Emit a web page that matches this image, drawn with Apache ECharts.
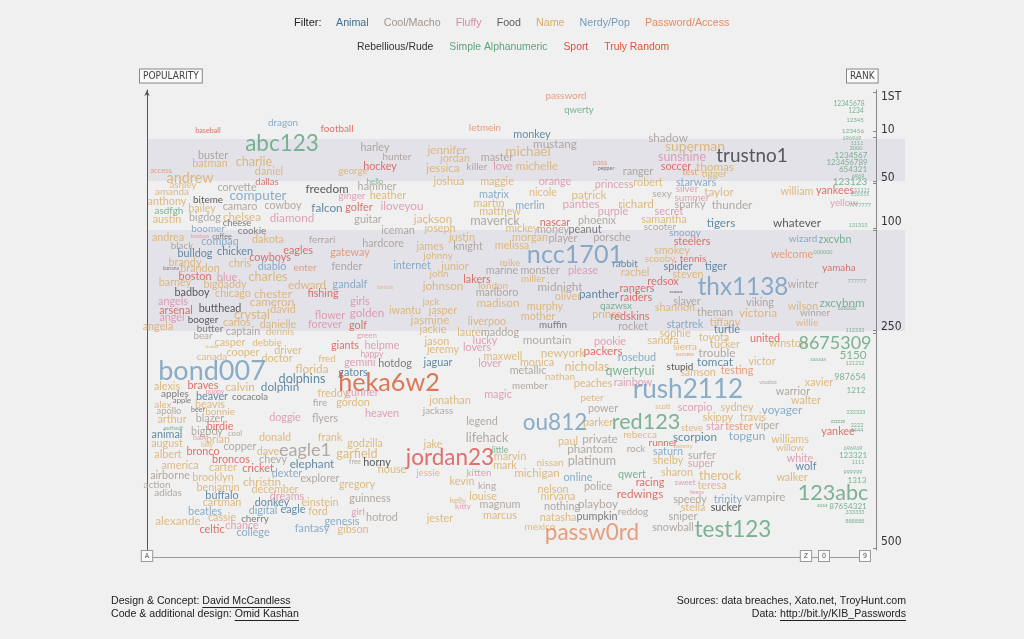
<!DOCTYPE html>
<html><head><meta charset="utf-8">
<script src="https://cdn.jsdelivr.net/npm/echarts@6/dist/echarts.min.js"></script>
<style>html,body{margin:0;padding:0;background:#f0f0f0;}#c{width:1024px;height:639px;}</style>
</head><body><div id="c"></div>
<script>
// each entry: [word, alphabetical position, rank position, popularity]
const animal = [['monkey',385,45,12],['falcon',180,118,13],['tigers',574,133,13],['bulldog',48,164,12],['chicken',88,162,12],['rabbit',478,174,11],['panther',452,204,13],['spider',531,177,12],['tiger',569,177,12],['turtle',580,240,12],['gators',206,283,12],['dolphins',155,289,14],['dolphin',133,297,13],['beaver',65,307,12],['jaguar',291,273,12],['tomcat',568,272,13],['animal',20,345,12],['elephant',165,374,13],['buffalo',75,406,12],['donkey',125,413,12],['eagle',146,420,12],['scorpion',548,347,13],['wolf',659,377,12]];
const coolMacho = [['harley',228,58,12],['buster',66,66,12],['hunter',250,67,11],['mustang',408,54,13],['master',350,68,12],['killer',330,77,11],['shadow',521,48,13],['ranger',491,82,12],['corvette',90,98,12],['hammer',230,97,12],['camaro',93,117,12],['cowboy',136,116,12],['bigdog',58,128,12],['guitar',221,130,12],['iceman',251,141,12],['maverick',348,131,14],['phoenix',450,131,12],['money',406,140,12],['player',416,149,12],['porsche',465,148,12],['sexy',515,104,11],['sparky',543,115,12],['thunder',585,115,13],['scooter',513,137,11],['black',35,156,11],['ferrari',175,150,11],['hardcore',236,154,12],['fender',200,177,12],['knight',321,157,12],['marine',355,181,12],['monster',393,181,12],['marlboro',350,203,12],['midnight',413,197,13],['rocket',486,237,12],['captain',96,242,12],['bear',56,246,11],['maddog',353,243,12],['mountain',400,250,13],['metallic',381,281,12],['member',383,296,11],['winter',656,195,12],['slayer',540,212,12],['viking',613,213,12],['theman',568,223,12],['winner',668,223,11],['trouble',570,263,13],['warrior',646,302,12],['apollo',22,321,10.3],['fire',173,313,11],['blazer',63,329,12],['flyers',178,329,12],['bigboy',60,342,12],['cool',88,344,8.4],['copper',93,357,12],['eagle1',158,360,20],['chevy',126,370,12],['free',208,372,7.6],['airborne',23,386,12],['explorer',173,389,12],['action',10,395,11],['adidas',21,403,11],['guinness',223,409,12],['hotrod',235,428,12],['jackass',291,321,11],['power',456,319,12],['legend',335,332,12],['lifehack',340,348,14],['private',453,349,13],['phantom',443,359,13],['rock',489,359,11],['platinum',445,371,14],['king',340,396,11],['police',451,397,12],['magnum',353,415,12],['nothing',415,417,12],['playboy',451,414,13],['reddog',486,422,11],['viper',620,336,12],['surfer',555,366,12],['speedy',543,410,12],['vampire',618,407,13],['sniper',536,427,12],['snowball',526,438,12],['voodoo',621,292,5.8]];
const fluffy = [['love',356,77,12],['ginger',205,106,11],['iloveyou',255,116,13],['diamond',145,128,13],['booboo',53,146,6],['orange',408,92,12],['princess',467,95,12],['panties',434,114,13],['purple',466,122,12],['sunshine',535,67,13.8],['silver',540,99,11],['summer',545,108,11],['secret',522,122,12],['yellow',697,113,11],['blue',80,188,12],['angels',26,212,12],['girls',213,212,12],['golden',220,223,13],['flower',183,226,12],['angel',25,228,12],['forever',178,235,12],['green',220,245,9],['helpme',235,256,12],['happy',225,264,9.5],['gemini',213,273,12],['puppy',68,302,7.5],['gunner',215,303,12],['please',436,181,12],['pookie',463,252,12],['lucky',338,251,12],['lovers',330,258,12],['lover',343,274,12],['rainbow',486,293,12],['magic',351,305,12],['heaven',235,324,12],['doggie',138,328,12],['baby',53,348,7.3],['dreams',140,407,12],['girl',211,422,11],['chance',95,436,12],['kitten',332,383,11],['kitty',316,416,9],['scorpio',548,318,12],['star',568,337,12],['white',653,369,12],['super',554,374,12],['sweet',538,392,9],['teens',550,402,6.5]];
const food = [['cheese',90,133,10.3],['cookie',105,141,11],['coffee',75,147,8],['pepper',459,78,6],['peanut',438,140,12],['banana',24,178,5.5],['butter',63,239,11],['hotdog',248,274,12],['apples',28,304,11],['cocacola',103,307,10.5],['muffin',406,235,11],['apple',35,311,8.6],['beer',51,320,7.8],['cherry',108,429,11],['pumpkin',450,427,12]];
const nameWords = [['batman',63,74,12],['charlie',107,72,14],['daniel',122,82,12],['george',206,81,11],['andrew',43,88,16],['ashley',36,95,11],['amanda',25,102,11],['heather',241,106,12],['anthony',20,112,12],['bailey',55,119,12],['austin',20,130,12],['chelsea',95,127,13],['andrea',21,148,12],['dakota',121,150,12],['jennifer',300,60,13],['michael',381,62,15],['jordan',308,69,12],['jessica',296,78,13],['michelle',390,76,13],['joshua',302,92,12],['maggie',350,92,12],['robert',501,93,12],['nicole',396,103,12],['patrick',442,105,13],['martin',342,114,12],['richard',489,114,13],['matthew',353,122,12],['jackson',286,129,13],['joseph',293,139,12],['mickey',375,139,12],['justin',315,148,12],['morgan',383,148,12],['superman',548,57,15.4],['thomas',568,77,13],['tigger',567,84,11],['taylor',572,102,13],['samantha',517,130,12],['william',650,102,12],['brandy',38,173,12],['brandon',53,179,12],['chris',93,174,12],['charles',121,187,14],['barney',28,193,12],['bigdaddy',78,195,12],['edward',160,195,13],['hannah',238,197,5.8],['chicago',86,204,12],['chester',126,204,13],['cameron',125,212,13],['crystal',105,225,14],['david',136,220,12],['iwantu',258,221,12],['carlos',90,233,12],['danielle',131,235,12],['angela',11,237,12],['dennis',133,242,11],['casper',83,253,12],['debbie',120,253,11],['bubba',65,257,5],['cooper',96,263,12],['driver',141,261,12],['canada',65,267,11],['fred',180,269,11],['doctor',130,269,12],['florida',165,279,13],['alexis',20,297,12],['calvin',93,297,13],['freddy',186,304,12],['james',283,157,12],['melissa',365,156,12],['johnny',291,166,11],['junior',308,177,12],['mike',363,173,11],['john',292,184,11],['london',346,196,11],['miller',386,189,11],['rachel',488,183,12],['johnson',296,196,13],['madison',351,213,13],['oliver',421,207,12],['jack',284,212,11],['jasper',296,221,12],['murphy',398,217,12],['mother',391,227,12],['prince',460,225,12],['jasmine',283,230,13],['liverpoo',340,232,12],['jackie',286,240,12],['lauren',325,243,12],['jason',290,252,12],['jeremy',296,260,12],['newyork',416,263,13],['maxwell',356,267,12],['monica',390,273,12],['nicholas',440,277,14],['nathan',413,287,11],['peaches',446,294,12],['jonathan',303,311,12],['peter',445,308,11],['smokey',525,161,12],['scooby',513,169,11],['steven',541,185,12],['wilson',656,217,12],['shannon',528,218,12],['victoria',611,223,13],['tiffany',578,233,12],['willie',660,233,11],['sophie',528,244,12],['toyota',567,248,12],['winston',641,254,12],['sandra',516,251,12],['tucker',578,255,12],['sierra',538,257,11],['victor',615,272,12],['samson',551,283,12],['xavier',672,293,12],['walter',659,311,12],['alex',16,315,11],['beavis',63,315,12],['bonnie',73,322,11],['gordon',206,313,12],['arthur',25,330,12],['brian',71,350,12],['donald',128,348,12],['frank',183,348,12],['august',20,354,12],['billy',60,355,7.5],['godzilla',218,354,12],['dave',121,362,12],['albert',21,365,12],['garfield',210,364,14],['america',33,376,12],['carter',76,378,12],['house',245,380,12],['brooklyn',66,388,12],['christin',115,392,13],['gregory',210,395,12],['benjamin',71,398,12],['december',128,400,12],['cartman',75,413,12],['einstein',173,413,12],['ford',171,422,12],['alexande',31,431,13],['cassie',75,428,12],['gibson',206,440,12],['parker',451,333,12],['jake',286,355,12],['paul',421,352,12],['rebecca',493,345,11],['marvin',363,367,12],['mark',358,376,12],['nissan',403,373,11],['jessie',281,383,11],['michigan',390,383,13],['kevin',315,392,12],['nelson',406,400,12],['louise',336,407,12],['kelly',311,410,9.2],['nirvana',411,407,12],['marcus',353,426,12],['jester',293,429,12],['natasha',411,428,12],['mexico',393,437,11],['scott',516,317,8],['sydney',590,318,12],['skippy',571,328,12],['travis',606,328,12],['steve',545,338,10.5],['sammy',536,356,7],['williams',643,350,12],['willow',643,358,11],['shelby',521,371,12],['sharon',530,383,12],['therock',573,386,14],['walker',645,388,12],['teresa',565,396,12],['stella',546,418,12]];
const nerdyPop = [['dragon',136,33,11],['computer',111,106,15],['boomer',61,139,11],['compaq',73,152,12],['matrix',347,105,12],['merlin',383,116,12],['starwars',549,93,12],['snoopy',538,143,11],['wizard',656,149,11],['diablo',125,177,12],['gandalf',203,195,12],['bond007',65,281,30],['ncc1701',428,165,28],['internet',265,176,12],['rosebud',490,268,12],['thx1138',596,197,27],['startrek',538,235,12],['rush2112',541,300,29],['dexter',140,384,12],['digital',116,421,12],['beatles',58,422,12],['genesis',195,432,12],['college',106,443,12],['fantasy',165,439,12],['ou812',408,333,25],['online',431,388,12],['voyager',635,320,13],['topgun',600,346,13],['saturn',521,362,12],['trinity',581,410,12]];
const passwordAccess = [['password',419,6,11],['letmein',338,38,11],['access',14,81,8.5],['pass',453,73,8.5],['test',543,82,10],['gateway',203,163,12],['enter',158,178,11],['welcome',645,165,12],['success',538,264,6],['testing',590,281,12],['tester',592,337,12],['passw0rd',445,443,25]];
const rebelliousRude = [['trustno1',605,66,21],['freedom',180,99,13],['biteme',61,110,11],['whatever',650,133,13],['badboy',45,203,12],['butthead',73,219,12],['booger',56,230,11],['sexsex',529,202,5],['stupid',533,277,11],['horny',230,373,12],['sucker',579,418,12]];
const simpleAlnum = [['abc123',135,54,25],['qwerty',432,20,10.5],['hello',228,92,8.6],['asdfgh',22,121,11],['12345678',702,14,7.4],['1234',709,21,7.4],['12345',708,30,6.8],['123456',706,41,7.2],['696969',705,48,6],['1111',710,53,6],['2000',709,58,6],['1234567',704,65,9],['123456789',700,72,8.8],['654321',706,79,9],['6969',711,86,6],['123123',703,92,11],['11111',715,100,6],['555555',713,104,6],['7777777',713,115,6],['131313',711,135,6],['zxcvbn',688,150,12],['000000',676,162,6],['777777',710,191,6],['qazwsx',469,216,11],['zxcvbnm',695,213,13],['666666',700,218,6],['112233',708,240,6],['8675309',688,253,20],['5150',706,265,13],['aaaaaa',671,269,6],['121212',708,273,6],['qwertyui',483,281,14],['987654',703,287,10],['1212',709,300,9],['asdfasdf',26,338,5.9],['little',353,360,9.5],['red123',499,332,24],['qwert',485,385,12],['232323',709,322,6],['zzzzzz',691,331,6],['2222',710,335,6],['4444',710,340,6],['696969',706,358,6],['123321',706,365,9],['1111',711,372,6],['999999',706,382,6],['1313',710,390,9],['123abc',686,403,24],['aaaa',675,415,6],['87654321',701,416,9],['333333',708,422,6],['888888',708,431,6],['test123',586,440,25]];
const sport = [['baseball',61,41,8],['football',190,39,11],['hockey',233,77,12],['dallas',120,92,10.6],['golfer',212,118,12],['soccer',529,77,12],['nascar',408,133,12],['yankees',688,101,12],['steelers',545,152,12],['cowboys',123,168,12],['eagles',151,161,12],['boston',48,187,12],['fishing',176,204,12],['arsenal',29,221,12],['golf',211,236,12],['giants',198,256,12],['braves',56,296,12],['lakers',330,190,12],['rangers',490,199,12],['raiders',489,208,12],['redskins',483,227,12],['packers',456,261,13],['tennis',546,169,11],['yamaha',692,178,11],['redsox',516,192,12],['united',618,249,12],['birdie',73,337,12],['bronco',56,362,12],['broncos',84,370,12],['cricket',111,379,12],['celtic',65,440,12],['jordan23',303,368,25],['racing',503,393,12],['redwings',493,404,13],['yankee',691,342,12],['runner',516,353,11]];
const trulyRandom = [['heka6w2',242,293,28]];

const categoryNames = ['Animal','Cool/Macho','Fluffy','Food','Name','Nerdy/Pop','Password/Access','Rebellious/Rude','Simple Alphanumeric','Sport','Truly Random'];
const categoryData = [animal, coolMacho, fluffy, food, nameWords, nerdyPop, passwordAccess, rebelliousRude, simpleAlnum, sport, trulyRandom];

const rankLabels = ['1ST','10','50','100','250','500'];
const rankLabelPos = [7, 40, 88, 132, 237, 452];
const rankBracketEnds = [2, 41, 47, 91, 93, 138, 140, 240, 243, 458];
const rankBands = [[49, 91], [140, 241]];
const letterLabels = ['A','Z','0','9'];
const letterPos = [0, 659, 677, 718];

const colors = {
  'Animal':'#3f6f90','Cool/Macho':'#a0968f','Fluffy':'#d98ca3','Food':'#5e5e5e','Name':'#d8ac64',
  'Nerdy/Pop':'#6f9bbd','Password/Access':'#e48a60','Rebellious/Rude':'#333333',
  'Simple Alphanumeric':'#5ea27c','Sport':'#d8504a','Truly Random':'#d6592f'
};
const wordFont = 'Lato, "Open Sans", sans-serif';
const uiFont = '"Liberation Sans", Arial, sans-serif';
const condFont = '"Liberation Sans Narrow", "DejaVu Sans Condensed", "Liberation Sans", sans-serif';

const chart = echarts.init(document.getElementById('c'), null, {renderer:'canvas'});

const series = categoryNames.map((name, i) => ({
  name, type:'scatter', xAxisIndex:0, yAxisIndex:0,
  symbol:'circle', symbolSize:1, itemStyle:{color:'rgba(0,0,0,0)'},
  silent:true, emphasis:{disabled:true}, z: 3,
  label:{show:true, position:'inside', formatter:'{b}', color:colors[name], fontFamily:wordFont},
  labelLayout:{hideOverlap:false},
  data: categoryData[i].map(d => ({name:d[0], value:[d[1], d[2], d[3]], label:{fontSize: Math.round(d[3]*0.9*10)/10}}))
}));

function legendItems(names){ return names.map(n => ({name:n, icon:'none', textStyle:{color:colors[n]}})); }

const option = {
  backgroundColor:'#f0f0f0',
  animation:false,
  grid:{left:147, top:90, width:718, height:460},
  legend:[
    {data:legendItems(categoryNames.slice(0,7)), left:326, top:13, itemWidth:0, itemHeight:10, itemGap:10, selectedMode:false,
     textStyle:{fontFamily:uiFont, fontSize:10.7}},
    {data:legendItems(categoryNames.slice(7)), left:347, top:37, itemWidth:0, itemHeight:10, itemGap:11, selectedMode:false,
     textStyle:{fontFamily:uiFont, fontSize:10.4}}
  ],
  xAxis:[{type:'value', min:0, max:718, position:'bottom', offset:7,
    axisLine:{show:true, onZero:false, lineStyle:{color:'#9a9a9a', width:1}},
    axisTick:{show:false}, splitLine:{show:false},
    axisLabel:{customValues:letterPos, formatter:(v)=>letterLabels[letterPos.indexOf(v)] || '',
      margin:-6, verticalAlign:'top', fontFamily:condFont, fontSize:7, color:'#555',
      backgroundColor:'#fafafa', borderColor:'#999', borderWidth:1, padding:[2,3,1,3]}
  }],
  yAxis:[
    {type:'value', min:0, max:460, inverse:true, position:'left',
     axisLine:{show:true, onZero:false, symbol:['none','arrow'], symbolSize:[4,6], lineStyle:{color:'#555', width:1}},
     axisTick:{show:false}, axisLabel:{show:false}, splitLine:{show:false}},
    {type:'value', min:0, max:460, inverse:true, position:'right', offset:11,
     axisLine:{show:true, onZero:false, lineStyle:{color:'#888', width:1}},
     axisTick:{show:true, customValues:rankBracketEnds, inside:true, length:3, lineStyle:{color:'#888'}},
     axisLabel:{customValues:rankLabelPos, formatter:(v)=>rankLabels[rankLabelPos.indexOf(v)] || '',
       margin:5, fontFamily:condFont, fontSize:12, color:'#333'},
     splitLine:{show:false}}
  ],
  series
};
chart.setOption(option);

// decorations derived from the axes
const gridLeft = chart.convertToPixel({xAxisIndex:0}, 0);
const bandRects = rankBands.map(b => {
  const y0 = chart.convertToPixel({yAxisIndex:0}, b[0]);
  const y1 = chart.convertToPixel({yAxisIndex:0}, b[1]);
  return {type:'rect', shape:{x:gridLeft, y:y0, width:905-gridLeft, height:y1-y0}, style:{fill:'#e4e2e9'}, z:-10, silent:true};
});

const ctx = document.createElement('canvas').getContext('2d');
const footFont = '10.6px ' + uiFont;
ctx.font = footFont;
const w = s => ctx.measureText(s).width;
const footY1 = 601, footY2 = 614;
const leftX = 111, rightX = 906;
const footer = [
  ['Design & Concept: ', 'David McCandless', footY1, 'left'],
  ['Code & additional design: ', 'Omid Kashan', footY2, 'left'],
  ['Sources: data breaches, Xato.net, TroyHunt.com', '', footY1, 'right'],
  ['Data: ', 'http://bit.ly/KIB_Passwords', footY2, 'right']
];
const footGraphics = [];
footer.forEach(f => {
  const full = f[0] + f[1];
  const x0 = f[3] === 'left' ? leftX : rightX - w(full);
  footGraphics.push({type:'text', x:x0, y:f[2], style:{text:full, font:footFont, fill:'#222', verticalAlign:'middle', align:'left'}, silent:true});
  if (f[1]) {
    const ux = x0 + w(f[0]);
    footGraphics.push({type:'line', shape:{x1:ux, y1:f[2]+6.5, x2:ux + w(f[1]), y2:f[2]+6.5}, style:{stroke:'#222', lineWidth:1}, silent:true});
  }
});

chart.setOption({
  graphic:[
    ...bandRects,
    {type:'text', x:294, y:23, style:{text:'Filter:', font:'11px ' + uiFont, fill:'#222', verticalAlign:'middle'}, silent:true},
    {type:'text', x:140, y:76, style:{text:'POPULARITY', font:'10px ' + condFont, fill:'#444', verticalAlign:'middle',
      backgroundColor:'#fafafa', borderColor:'#888', borderWidth:1, padding:[2,3,1,3]}, silent:true},
    {type:'text', x:847, y:76, style:{text:'RANK', font:'10px ' + condFont, fill:'#444', verticalAlign:'middle',
      backgroundColor:'#fafafa', borderColor:'#888', borderWidth:1, padding:[2,3,1,3]}, silent:true},
    ...footGraphics
  ]
});
</script></body></html>
